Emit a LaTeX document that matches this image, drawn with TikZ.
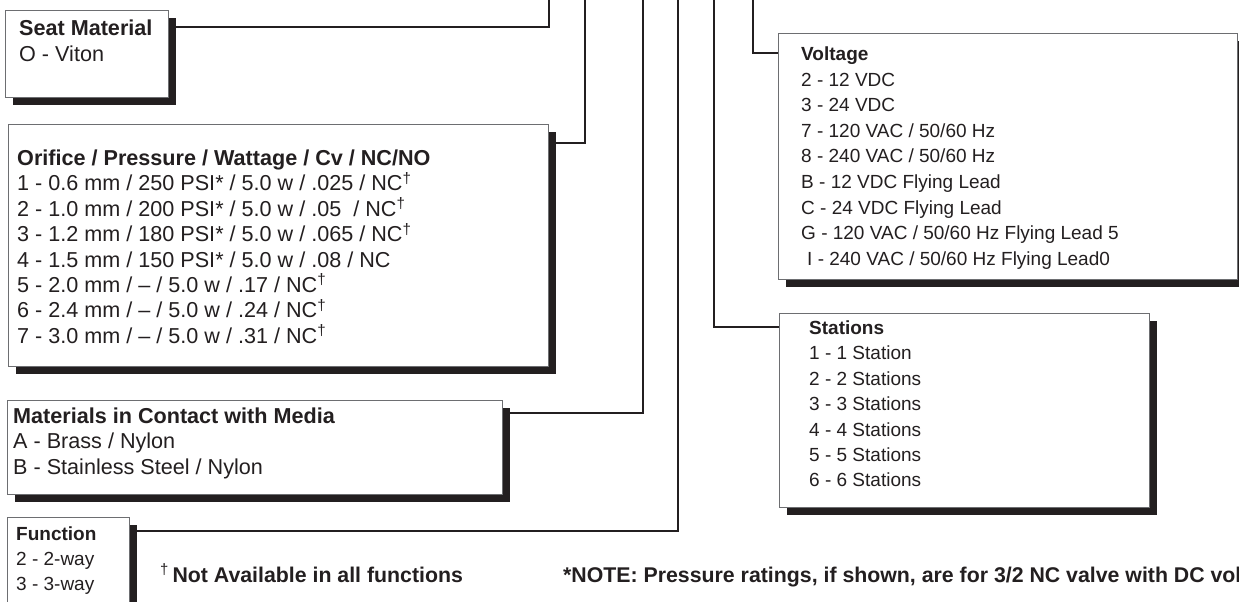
\documentclass[tikz,border=0pt]{standalone}
\usepackage{fontspec}
\setmainfont{Liberation Sans}
\usetikzlibrary{shadows}
\definecolor{ink}{HTML}{231F20}
\definecolor{edge}{HTML}{6D6E71}
\pgfdeclarelayer{background}
\pgfsetlayers{background,main}
\newcommand{\dg}{\textsuperscript{\mdseries †}}
\begin{document}
\begin{tikzpicture}[x=1pt,y=-1pt,
  box/.style={draw=edge, line width=0.9pt, fill=white, inner sep=0pt, anchor=north west,
    drop shadow={shadow xshift=8pt, shadow yshift=-8pt, fill=ink, opacity=1}},
  conn/.style={draw=ink, line width=1.8pt},
  hr/.style={inner sep=0pt, anchor=base west, text=ink, font=\fontsize{21.6}{26}\selectfont},
  hb/.style={hr, font=\fontsize{21.6}{26}\selectfont\bfseries},
  sr/.style={inner sep=0pt, anchor=base west, text=ink, font=\fontsize{19}{23}\selectfont},
  sb/.style={sr, font=\fontsize{19}{23}\selectfont\bfseries},
  nb/.style={inner sep=0pt, anchor=base west, text=ink, font=\fontsize{21.3}{25}\selectfont\bfseries}]
\useasboundingbox (0,0) rectangle (1239,602);

% boxes
\node[box, minimum width=163pt, minimum height=87pt] (seat) at (5,10) {};
\node[box, minimum width=540pt, minimum height=242pt] (ori) at (8,124) {};
\node[box, minimum width=495pt, minimum height=94pt] (mat) at (7,400) {};
\node[box, minimum width=122pt, minimum height=100pt] (fun) at (7,517) {};
\node[box, minimum width=459pt, minimum height=246pt] (volt) at (778,33) {};
\node[box, minimum width=370pt, minimum height=194pt] (stat) at (779,313) {};

% top ends of the connectors
\coordinate (t1) at (549,-3);
\coordinate (t2) at (585,-3);
\coordinate (t3) at (643,-3);
\coordinate (t4) at (678,-3);
\coordinate (t5) at (714,-3);
\coordinate (t6) at (753,-3);

\begin{pgfonlayer}{background}
\draw[conn] (seat.north east |- 0,27) -| (t1);
\draw[conn] (ori.north east |- 0,143) -| (t2);
\draw[conn] (mat.north east |- 0,413) -| (t3);
\draw[conn] (fun.north east |- 0,531) -| (t4);
\draw[conn] (stat.north west |- 0,327) -| (t5);
\draw[conn] (volt.north west |- 0,53) -| (t6);
\end{pgfonlayer}

% seat material
\node[hb] (seatH) at (19,36) {Seat Material};
\node[hr] (seat1) at (19,62) {O - Viton};

% orifice
\node[hb] (oriH) at (17,165.5) {Orifice / Pressure / Wattage / Cv / NC/NO};
\foreach \t [count=\i] in {
  {1 - 0.6 mm / 250 PSI* / 5.0 w / .025 / NC\dg},
  {2 - 1.0 mm / 200 PSI* / 5.0 w / .05\ \ / NC\dg},
  {3 - 1.2 mm / 180 PSI* / 5.0 w / .065 / NC\dg},
  {4 - 1.5 mm / 150 PSI* / 5.0 w / .08 / NC},
  {5 - 2.0 mm / – / 5.0 w / .17 / NC\dg},
  {6 - 2.4 mm / – / 5.0 w / .24 / NC\dg},
  {7 - 3.0 mm / – / 5.0 w / .31 / NC\dg}}
  \node[hr] (ori\i) at (17,165.5+25.4*\i) {\t};

% materials
\node[hb] (matH) at (13,423) {Materials in Contact with Media};
\node[hr] (mat1) at (13,448.5) {A - Brass / Nylon};
\node[hr] (mat2) at (13,474) {B - Stainless Steel / Nylon};

% function
\node[sb] (funH) at (16,540) {Function};
\node[sr] (fun1) at (16,565) {2 - 2-way};
\node[sr] (fun2) at (16,590) {3 - 3-way};

% voltage
\node[sb] (voltH) at (801,60.5) {Voltage};
\foreach \t [count=\i] in {
  {2 - 12 VDC},
  {3 - 24 VDC},
  {7 - 120 VAC / 50/60 Hz},
  {8 - 240 VAC / 50/60 Hz},
  {B - 12 VDC Flying Lead},
  {C - 24 VDC Flying Lead},
  {G - 120 VAC / 50/60 Hz Flying Lead 5},
  {\hspace*{6pt}I - 240 VAC / 50/60 Hz Flying Lead0}}
  \node[sr] (volt\i) at (801,60.5+25.6*\i) {\t};

% stations
\node[sb] (statH) at (809,334.5) {Stations};
\foreach \t [count=\i] in {
  {1 - 1 Station},
  {2 - 2 Stations},
  {3 - 3 Stations},
  {4 - 4 Stations},
  {5 - 5 Stations},
  {6 - 6 Stations}}
  \node[sr] (stat\i) at (809,334.5+25.4*\i) {\t};

% notes
\node[nb] (note1) at (160,582) {\dg\,Not Available in all functions};
\node[nb] (note2) at (563,582) {*NOTE: Pressure ratings, if shown, are for 3/2 NC valve with DC voltage.};
\end{tikzpicture}
\end{document}
